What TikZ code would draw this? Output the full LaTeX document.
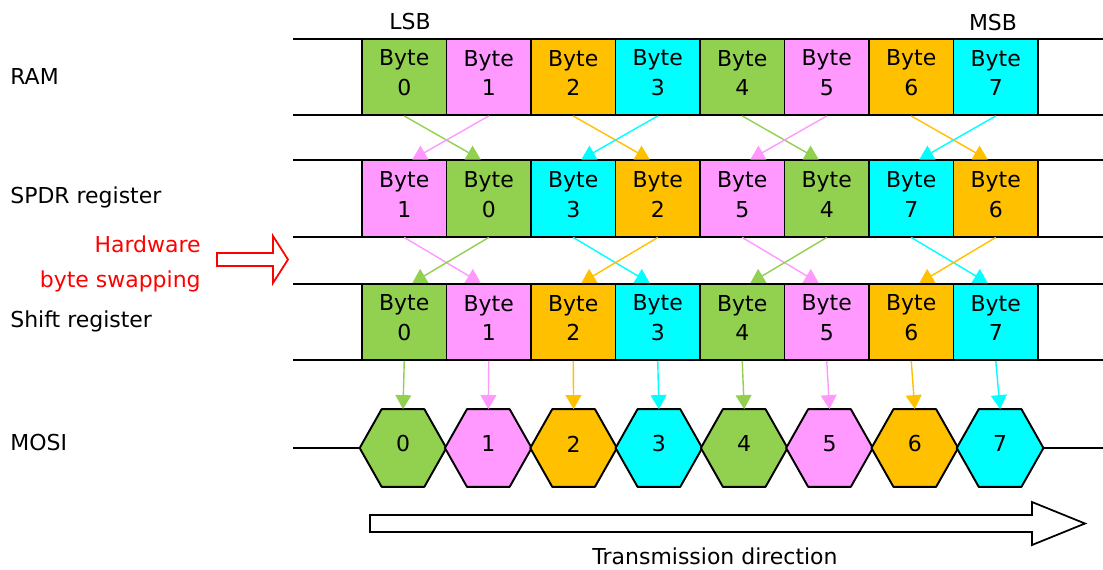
\documentclass[tikz,border=0pt]{standalone}
\usepackage{fontspec}
\setmainfont{DejaVu Sans}
\usetikzlibrary{arrows.meta}
\definecolor{bgreen}{HTML}{92D050}
\definecolor{bpink}{HTML}{FF99FF}
\definecolor{borange}{HTML}{FFC000}
\definecolor{bcyan}{HTML}{00FFFF}
\newcommand\lift[1]{\raisebox{2.3pt}[\height][\depth]{#1}}
\tikzset{
	bytebox/.style={draw, line width=1.1pt, minimum width=1.69cm, minimum height=1.52cm, inner sep=0pt, align=center},
	hexnode/.style={minimum width=1.72cm, minimum height=1.54cm, inner sep=0pt},
	hexline/.style={draw, line width=1.1pt},
	rail/.style={line width=1.1pt},
	flow/.style={->, line width=0.8pt},
	lbl/.style={inner sep=0pt},
	hollow/.style={line width=1pt, line join=miter}
}
\begin{document}
\begin{tikzpicture}[x=0.02cm, y=-0.02cm, font=\fontsize{12.5}{17}\selectfont, line join=round, >={Triangle[width=9pt,length=8pt]}]
	\useasboundingbox (0,0) rectangle (1103,569);
	% rails
	\foreach \y in {39,115,160,237,284,360}
		\draw[rail] (293,\y) -- (1103,\y);
	% RAM and shift register
	\foreach \i/\c in {0/bgreen,1/bpink,2/borange,3/bcyan,4/bgreen,5/bpink,6/borange,7/bcyan}
	{
		\node[bytebox, fill=\c] (r\i) at ({404.25+84.5*\i},77) {\lift{Byte}\\\lift{\i}};
		\node[bytebox, fill=\c] (h\i) at ({404.25+84.5*\i},322) {\lift{Byte}\\\lift{\i}};
	}
	% SPDR register
	\foreach \i/\b/\c in {0/1/bpink,1/0/bgreen,2/3/bcyan,3/2/borange,4/5/bpink,5/4/bgreen,6/7/bcyan,7/6/borange}
		\node[bytebox, fill=\c] (s\i) at ({404.25+84.5*\i},198.5) {\lift{Byte}\\\lift{\b}};
	% MOSI
	\foreach \i/\c in {0/bgreen,1/bpink,2/borange,3/bcyan,4/bgreen,5/bpink,6/borange,7/bcyan}
	{
		\node[hexnode] (m\i) at ({403+85.3*\i},448) {};
		\draw[hexline, fill=\c] (m\i.west) -- ([xshift=0.44cm]m\i.north west) -- ([xshift=-0.44cm]m\i.north east)
			-- (m\i.east) -- ([xshift=-0.44cm]m\i.south east) -- ([xshift=0.44cm]m\i.south west) -- cycle;
		\node (d\i) at (m\i) {\lift{\i}};
	}
	\draw[line width=0.8pt] (293,448) -- (m0.west);
	\draw[line width=0.8pt] (m7.east) -- (1103,448);
	% byte swapping
	\foreach \a/\b/\c in {0/1/bgreen,1/0/bpink,2/3/borange,3/2/bcyan,4/5/bgreen,5/4/bpink,6/7/borange,7/6/bcyan}
		\draw[flow, \c] (r\a.south) -- ([xshift={(\a-\b)*0.16cm}]s\b.north);
	\foreach \a/\b/\c in {0/1/bpink,1/0/bgreen,2/3/bcyan,3/2/borange,4/5/bpink,5/4/bgreen,6/7/bcyan,7/6/borange}
		\draw[flow, \c] (s\a.south) -- ([xshift={(\a-\b)*0.16cm}]h\b.north);
	\foreach \i/\c in {0/bgreen,1/bpink,2/borange,3/bcyan,4/bgreen,5/bpink,6/borange,7/bcyan}
		\draw[flow, \c] (h\i.south) -- (m\i.north);
	% labels
	\node[lbl, anchor=base west] (ram) at (10,84) {RAM};
	\node[lbl, anchor=base west] (spdr) at (10,203) {SPDR register};
	\node[lbl, anchor=base west] (shift) at (10,327) {Shift register};
	\node[lbl, anchor=base west] (mosi) at (10,450) {MOSI};
	\node[lbl, anchor=base east, red] (hw) at (201,252) {Hardware};
	\node[lbl, anchor=base east, red] (swap) at (201,287) {byte swapping};
	\node[lbl, anchor=base] (lsb) at (410,29) {LSB};
	\node[lbl, anchor=base] (msb) at (993,30) {MSB};
	\node[lbl, anchor=base] (dir) at (715,564) {Transmission direction};
	% hollow arrows
	\draw[hollow, red] (217,253) -- (273,253) -- (273,236) -- (288,259.5) -- (273,283) -- (273,266) -- (217,266) -- cycle;
	\draw[hollow] (370,515) -- (1032,515) -- (1032,502) -- (1085,523.5) -- (1032,545) -- (1032,532) -- (370,532) -- cycle;
\end{tikzpicture}
\end{document}
